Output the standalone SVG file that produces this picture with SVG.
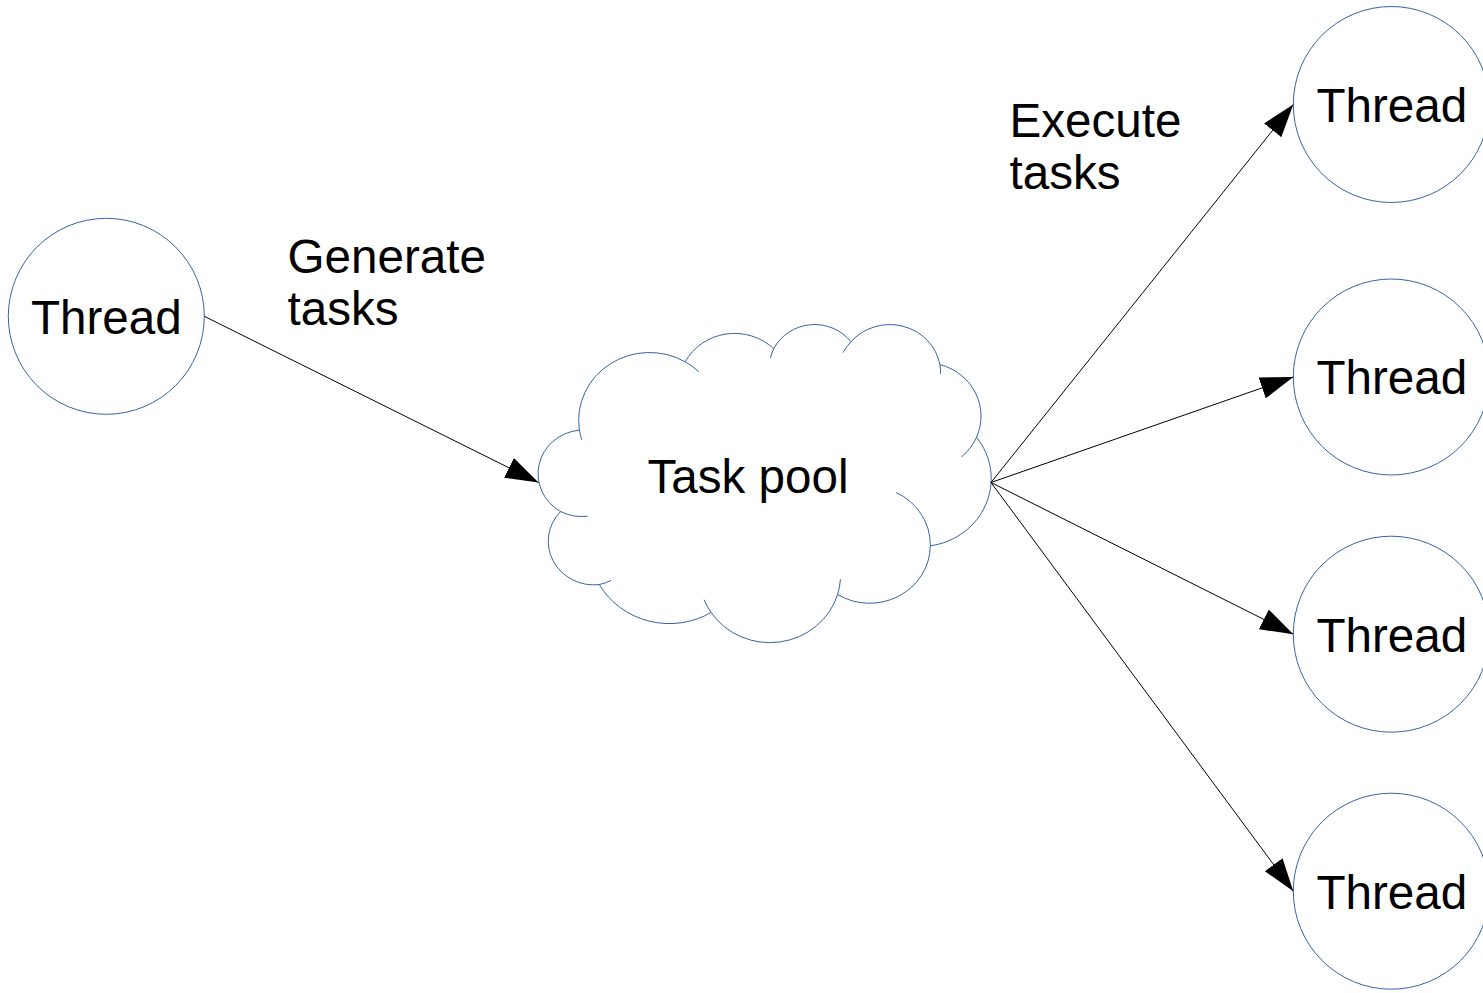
<svg xmlns="http://www.w3.org/2000/svg" width="1483" height="993" viewBox="0 0 1483 993">
  <style>
    .shape { fill: #ffffff; stroke: #3465a4; stroke-width: 1; }
    .fold { fill: none; stroke: #3465a4; stroke-width: 1; }
    .label { font-family: "Liberation Sans", Arial, sans-serif; font-size: 47.6px; fill: #000000; }
    .edge { fill: none; stroke: #000000; stroke-width: 1; marker-end: url(#arrow); }
  </style>
  <defs>
    <marker id="arrow" markerUnits="userSpaceOnUse" markerWidth="34" markerHeight="23" refX="33" refY="11" orient="auto">
      <path d="M0,0 L33,11 L0,22 Z" fill="#000000"/>
    </marker>
  </defs>

  <rect width="1483" height="993" fill="#ffffff"/>

  <!-- producer thread -->
  <g id="thread-producer">
    <circle class="shape" cx="106.3" cy="316.3" r="98"/>
    <text class="label" x="106.3" y="333.8" text-anchor="middle">Thread</text>
  </g>

  <!-- task pool cloud: outline of 11 arcs plus the short inner fold strokes -->
  <g id="task-pool">
    <path class="shape" d="M579.35,429.28
      A70.74,67.65 0 0 1 685.20,361.79
      A55.86,53.49 0 0 1 773.72,348.76
      A45.72,43.76 0 0 1 850.98,341.76
      A50.88,48.55 0 0 1 939.86,364.53
      A55.86,53.54 0 0 1 976.52,437.28
      A70.97,67.87 0 0 1 930.28,545.80
      A60.60,57.91 0 0 1 837.58,594.46
      A70.73,67.83 0 0 1 711.10,612.50
      A80.87,77.61 0 0 1 599.26,584.57
      A45.67,43.56 0 0 1 560.59,511.54
      A45.51,43.76 0 0 1 578.92,430.25 Z"/>
    <path class="fold" d="M581.73,439.72 A70.74,67.65 0 0 1 579.35,429.28
      M685.20,361.79 A70.74,67.65 0 0 1 698.81,371.72
      M770.43,358.24 A45.72,43.76 0 0 1 773.72,348.76
      M843.09,352.59 A50.88,48.55 0 0 1 850.98,341.76
      M939.86,364.53 A50.88,48.55 0 0 1 940.67,373.84
      M976.52,437.28 A55.86,53.54 0 0 1 961.34,456.99
      M896.00,492.47 A60.60,57.91 0 0 1 930.28,545.80
      M840.46,579.31 A70.73,67.83 0 0 1 837.58,594.46
      M711.10,612.50 A70.73,67.83 0 0 1 704.10,599.70
      M611.07,580.40 A45.67,43.56 0 0 1 599.26,584.57
      M587.66,516.19 A45.51,43.76 0 0 1 560.59,511.54"/>
    <text class="label" x="647.5" y="493.3">Task pool</text>
  </g>

  <!-- worker threads -->
  <g id="thread-worker-1">
    <circle class="shape" cx="1391.3" cy="104.5" r="98"/>
    <text class="label" x="1391.8" y="121.8" text-anchor="middle">Thread</text>
  </g>
  <g id="thread-worker-2">
    <circle class="shape" cx="1391.3" cy="377" r="98"/>
    <text class="label" x="1391.8" y="394.3" text-anchor="middle">Thread</text>
  </g>
  <g id="thread-worker-3">
    <circle class="shape" cx="1391.3" cy="634.2" r="98"/>
    <text class="label" x="1391.8" y="651.5" text-anchor="middle">Thread</text>
  </g>
  <g id="thread-worker-4">
    <circle class="shape" cx="1391.3" cy="891.2" r="98"/>
    <text class="label" x="1391.8" y="908.5" text-anchor="middle">Thread</text>
  </g>

  <!-- connectors -->
  <g id="connectors">
    <line class="edge" x1="204.3" y1="316.3" x2="538.5" y2="482.5"/>
    <line class="edge" x1="991" y1="482.5" x2="1293.3" y2="104.5"/>
    <line class="edge" x1="991" y1="482.5" x2="1293.3" y2="377"/>
    <line class="edge" x1="991" y1="482.5" x2="1293.3" y2="634.2"/>
    <line class="edge" x1="991" y1="482.5" x2="1293.3" y2="891.2"/>
  </g>

  <!-- connector captions -->
  <g id="labels">
    <text class="label" x="287.5"><tspan x="287.5" y="272.6">Generate</tspan><tspan x="287.5" y="325.2">tasks</tspan></text>
    <text class="label" x="1009.5"><tspan x="1009.5" y="136.6">Execute</tspan><tspan x="1009.5" y="189.2">tasks</tspan></text>
  </g>
</svg>
